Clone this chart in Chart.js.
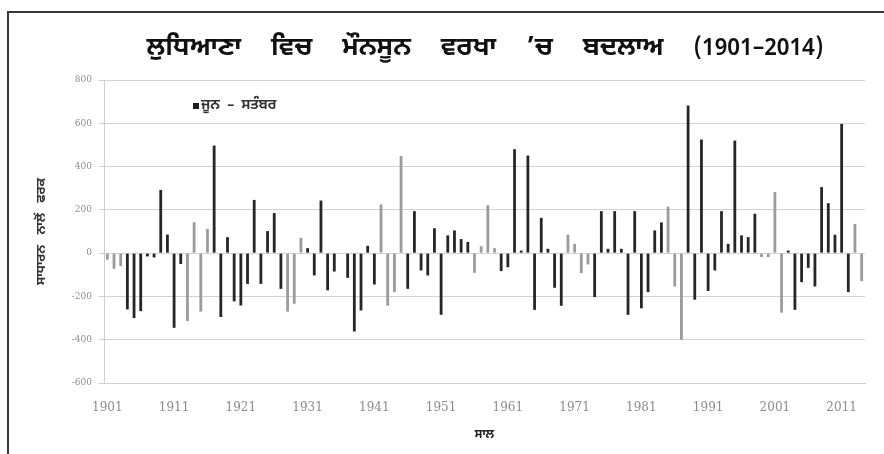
<!DOCTYPE html>
<html><head><meta charset="utf-8">
<script src="https://cdn.jsdelivr.net/npm/chart.js@4.4.1/dist/chart.umd.min.js"></script>
<style>
html,body{margin:0;padding:0;background:#fff;}
#wrap{position:relative;width:884px;height:454px;overflow:hidden;background:#fff;}
#frame{position:absolute;left:7px;top:11px;width:950px;height:550px;border-left:2px solid #3a3a3a;border-top:2px solid #3a3a3a;}
#title{position:absolute;left:104px;width:762px;top:33px;text-align:center;font-family:'Noto Sans Gurmukhi','Lohit Gurmukhi','Noto Sans',sans-serif;font-weight:bold;font-size:26px;line-height:32px;word-spacing:23px;color:#111;white-space:nowrap;z-index:2;}
#title span{font-size:23px;font-weight:600;word-spacing:0;}
canvas{position:absolute;left:0;top:0;z-index:1;}
</style></head><body>
<div id="wrap"><div id="frame"></div><div id="title">ਲੁਧਿਆਣਾ ਵਿਚ ਮੌਨਸੂਨ ਵਰਖਾ ’ਚ ਬਦਲਾਅ <span>(1901–2014)</span></div><canvas id="c" width="884" height="454"></canvas></div>
<script>
const years = [1901,1902,1903,1904,1905,1906,1907,1908,1909,1910,
1911,1912,1913,1914,1915,1916,1917,1918,1919,1920,
1921,1922,1923,1924,1925,1926,1927,1928,1929,1930,
1931,1932,1933,1934,1935,1936,1937,1938,1939,1940,
1941,1942,1943,1944,1945,1946,1947,1948,1949,1950,
1951,1952,1953,1954,1955,1956,1957,1958,1959,1960,
1961,1962,1963,1964,1965,1966,1967,1968,1969,1970,
1971,1972,1973,1974,1975,1976,1977,1978,1979,1980,
1981,1982,1983,1984,1985,1986,1987,1988,1989,1990,
1991,1992,1993,1994,1995,1996,1997,1998,1999,2000,
2001,2002,2003,2004,2005,2006,2007,2008,2009,2010,
2011,2012,2013,2014];
const departures = [-30,-72,-60,-260,-300,-268,-15,-20,292,86,
-345,-50,-314,143,-270,112,497,-295,74,-223,
-242,-142,246,-142,102,185,-165,-270,-234,71,
23,-103,243,-172,-85,0,-114,-362,-265,34,
-145,225,-243,-180,449,-165,194,-80,-103,115,
-285,82,105,65,52,-91,32,222,23,-83,
-65,480,12,451,-262,163,20,-160,-243,85,
43,-92,-52,-203,194,20,194,20,-285,194,
-255,-180,105,142,215,-154,-400,682,-215,525,
-175,-80,194,43,520,82,74,182,-18,-18,
282,-275,12,-262,-134,-68,-154,305,231,85,
597,-180,135,-129];
const barTone = ['g','g','g','d','d','d','d','d','d','d',
'd','d','g','g','g','g','d','d','d','d',
'd','d','d','d','d','d','d','g','g','g',
'd','d','d','d','d','d','d','d','d','d',
'd','g','g','g','g','d','d','d','d','d',
'd','d','d','d','d','g','g','g','g','d',
'd','d','d','d','d','d','d','d','d','g',
'g','g','g','d','d','d','d','d','d','d',
'd','d','d','d','g','g','g','d','d','d',
'd','d','d','d','d','d','d','d','g','g',
'g','g','d','d','d','d','d','d','d','d',
'd','d','g','g'];
const tickLabels = ['1901','1911','1921','1931','1941','1951','1961','1971','1981','1991','2001','2011'];
const yTicks = [800,600,400,200,0,-200,-400,-600];
const seriesLabel = 'ਜੂਨ  –  ਸਤੰਬਰ';
const yTitle = 'ਸਾਧਾਰਨ   ਨਾਲੋਂ   ਫਰਕ';
const xTitle = 'ਸਾਲ';

const gurmukhi = "'Noto Sans Gurmukhi','Lohit Gurmukhi','Noto Sans',sans-serif";

const inlineLegend = {
  id: 'inlineLegend',
  afterDraw(chart) {
    const {ctx, chartArea} = chart;
    const ds = chart.data.datasets[0];
    ctx.save();
    ctx.fillStyle = '#1e1e1e';
    ctx.fillRect(chartArea.left + 89, 103, 6, 6);
    ctx.font = 'bold 14px ' + gurmukhi;
    ctx.textBaseline = 'middle';
    ctx.fillStyle = '#333';
    ctx.fillText(ds.label, chartArea.left + 97, 106);
    ctx.restore();
  }
};

new Chart(document.getElementById('c'), {
  type: 'bar',
  data: {
    labels: years.map(String),
    datasets: [{
      label: seriesLabel,
      data: departures,
      backgroundColor: barTone.map(t => t === 'g' ? '#9b9b9b' : '#262626'),
      barPercentage: 0.42,
      categoryPercentage: 1
    }]
  },
  options: {
    responsive: false,
    animation: false,
    layout: {padding: {top: 80, right: 19, left: 0, bottom: 0}},
    plugins: {legend: {display: false}, title: {display: false}, tooltip: {enabled: false}},
    scales: {
      x: {
        grid: {display: false, drawTicks: false},
        border: {display: true, color: '#cdcdcd'},
        ticks: {
          autoSkip: false, maxRotation: 0, minRotation: 0, padding: 18,
          font: {family: 'DejaVu Serif', size: 12}, color: '#8c8c8c',
          callback: function(v) { const l = this.getLabelForValue(v); return tickLabels.includes(l) ? l : ''; }
        },
        title: {display: true, text: xTitle, font: {family: gurmukhi, size: 12, weight: 'bold'}, color: '#222', padding: {top: 0, bottom: 11}},
        afterFit: s => { s.height = 71; }
      },
      y: {
        min: -600, max: 800,
        afterBuildTicks: s => { s.ticks = yTicks.map(v => ({value: v})); },
        ticks: {padding: 7, font: {family: 'DejaVu Serif', size: 9}, color: '#8c8c8c'},
        grid: {color: '#d2d2d2', tickLength: 5, drawTicks: true},
        border: {color: '#cdcdcd'},
        title: {display: true, text: yTitle, font: {family: gurmukhi, size: 13, weight: 'bold'}, color: '#333', padding: {top: 35, bottom: 0}},
        afterFit: s => { s.width = 104; }
      }
    }
  },
  plugins: [inlineLegend]
});
</script>
</body></html>
